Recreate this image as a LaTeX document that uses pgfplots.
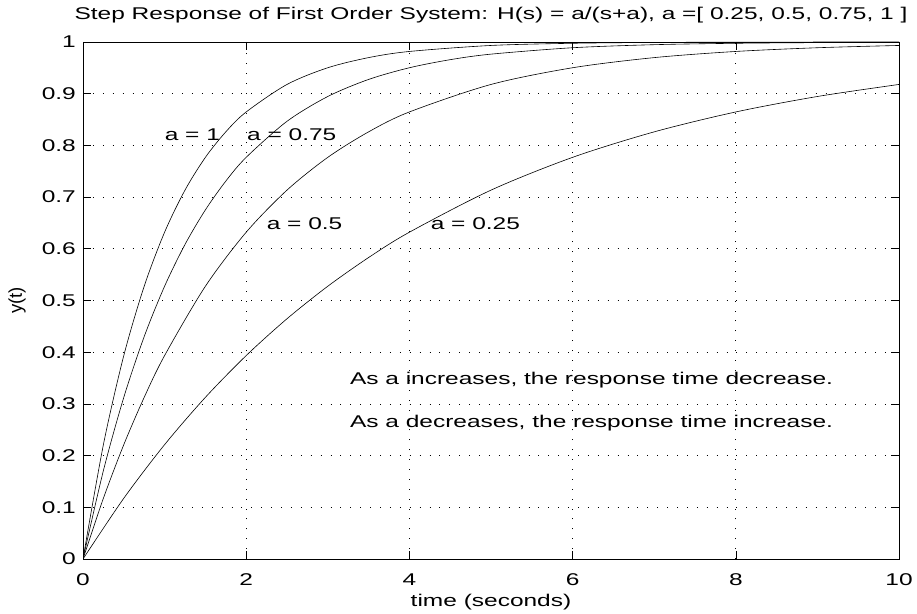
\documentclass[border=0pt]{standalone}
\usepackage{fontspec}
\setmainfont{Liberation Sans}[FakeStretch=1.44]
\newfontfamily\plainsans{Liberation Sans}
\usepackage{pgfplots}
\pgfplotsset{compat=1.18}
\begin{document}
\begin{tikzpicture}[font=\fontsize{17bp}{20bp}\selectfont]
\path[use as bounding box] (0bp,0bp) rectangle (917bp,614bp);
\begin{axis}[
  at={(83bp,55bp)}, anchor=south west,
  width=816bp, height=517bp, scale only axis,
  xmin=0, xmax=10, ymin=0, ymax=1,
  xtick={0,2,4,6,8,10},
  ytick={0,0.1,0.2,0.3,0.4,0.5,0.6,0.7,0.8,0.9,1},
  /pgf/number format/assume math mode=true,
  yticklabel style={/pgf/number format/fixed,/pgf/number format/precision=1,anchor=east,inner sep=0pt,xshift=-7bp},
  xticklabel style={anchor=base,inner sep=0pt,yshift=-26bp},
  tick align=inside, major tick length=8bp,
  tick style={black,line width=0.6bp},
  axis line style={line width=0.9bp},
  grid=major,
  grid style={black,dash pattern=on 0.9bp off 9bp,line width=0.7bp},
  title={Step Response of First Order System: H(s) = a/(s+a), a =[ 0.25, 0.5, 0.75, 1 ]},
  title style={at={(axis description cs:0.5,1.0329)},anchor=base,inner sep=0pt},
  xlabel={time (seconds)},
  xlabel style={at={(axis description cs:0.5,-0.0919)},anchor=base,inner sep=0pt},
  ylabel={\plainsans\fontsize{18.5bp}{20bp}\selectfont y(t)},
  ylabel style={at={(axis description cs:-0.0809,0.5)},anchor=center,inner sep=0pt},
]
\addplot[black,smooth,line width=0.6bp] coordinates {
(0,0) (0.25,0.2212) (0.5,0.3935) (0.75,0.5276) (1,0.6321) (1.25,0.7135) (1.5,0.7769) (1.75,0.8262) (2,0.8647) (2.5,0.9179) (3,0.9502) (3.5,0.9698) (4,0.9817) (5,0.9933) (6,0.9975) (7,0.9991) (8,0.9997) (9,0.9999) (10,1.0000)};
\addplot[black,smooth,line width=0.6bp] coordinates {
(0,0) (0.25,0.1710) (0.5,0.3127) (0.75,0.4302) (1,0.5276) (1.25,0.6084) (1.5,0.6753) (1.75,0.7309) (2,0.7769) (2.5,0.8466) (3,0.8946) (3.5,0.9276) (4,0.9502) (4.5,0.9658) (5,0.9765) (6,0.9889) (7,0.9948) (8,0.9975) (9,0.9988) (10,0.9994)};
\addplot[black,smooth,line width=0.6bp] coordinates {
(0,0) (0.25,0.1175) (0.5,0.2212) (0.75,0.3127) (1,0.3935) (1.5,0.5276) (2,0.6321) (2.5,0.7135) (3,0.7769) (3.5,0.8262) (4,0.8647) (5,0.9179) (6,0.9502) (7,0.9698) (8,0.9817) (9,0.9889) (10,0.9933)};
\addplot[black,smooth,line width=0.6bp] coordinates {
(0,0) (0.5,0.1175) (1,0.2212) (1.5,0.3127) (2,0.3935) (2.5,0.4647) (3,0.5276) (3.5,0.5831) (4,0.6321) (5,0.7135) (6,0.7769) (7,0.8262) (8,0.8647) (9,0.8946) (10,0.9179)};
\node[anchor=base west,inner sep=0pt] at (axis cs:1.0,0.8104) {a = 1};
\node[anchor=base west,inner sep=0pt] at (axis cs:2.01,0.8104) {a = 0.75};
\node[anchor=base west,inner sep=0pt] at (axis cs:2.25,0.6364) {a = 0.5};
\node[anchor=base west,inner sep=0pt] at (axis cs:4.26,0.6364) {a = 0.25};
\node[anchor=base west,inner sep=0pt] at (axis cs:3.27,0.3366) {As a increases, the response time decrease.};
\node[anchor=base west,inner sep=0pt] at (axis cs:3.27,0.2553) {As a decreases, the response time increase.};
\end{axis}
\end{tikzpicture}
\end{document}
